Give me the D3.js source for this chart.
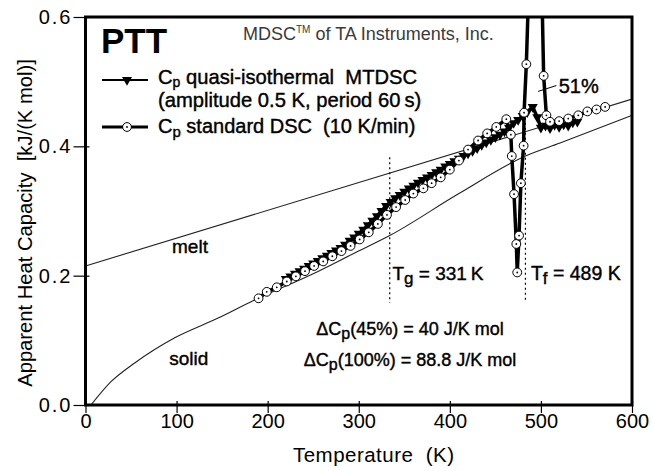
<!DOCTYPE html>
<html><head><meta charset="utf-8">
<script src="https://cdn.jsdelivr.net/npm/d3@7"></script>
<style>
body{margin:0;background:#fff}
svg{display:block}
text{font-family:"Liberation Sans",Arial,Helvetica,sans-serif;fill:#000}
.heavy{stroke:#000;stroke-width:0.4px}
</style>
</head><body>
<svg id="chart" width="653" height="471"></svg>
<script>
// ---------- data ----------
const xTicks = [0, 100, 200, 300, 400, 500, 600];
const yTicks = [0.0, 0.2, 0.4, 0.6];
const yTickLabels = ["0.0", "0.2", "0.4", "0.6"];

// quasi-isothermal MTDSC (triangles)
const mtdscT  = [220,225,230,235,240,245,250,255,260,265,270,275,280,285,290,295,300,305,310,315,320,325,330,335,340,345,350,355,360,365,370,375,380,385,390,395,400,405,410,415,420,425,430,435,440,445,450,455,460,465,470,475,480,485,491,496,500,505,510,515,520,525,530,535,540];
const mtdscCp = [.195,.199,.203,.207,.211,.215,.219,.223,.227,.231,.235,.239,.243,.248,.254,.259,.265,.271,.278,.285,.292,.300,.308,.314,.320,.325,.330,.335,.339,.344,.348,.352,.356,.360,.364,.369,.373,.377,.381,.385,.389,.393,.397,.402,.406,.410,.414,.418,.423,.429,.436,.441,.447,.453,.461,.445,.429,.432,.428,.433,.430,.434,.432,.437,.438];

// standard DSC 10 K/min (circles)
const dscT  = [190,199,210,221,231,241,251,261,271,281,291,301,311,321,331,341,351,360,371,380,390,400,410,420,431,441,451,462,467,468,470.5,473,474,476,478,481,481.5,484,490,497,503,506,510,520,530,541,551,561,570.5];
const dscCp = [.165,.175,.182,.191,.199,.207,.215,.222,.230,.238,.246,.256,.267,.280,.294,.306,.317,.327,.335,.343,.352,.364,.378,.395,.409,.420,.430,.442,.418,.385,.326,.249,.205,.262,.343,.401,.452,.527,.80,.92,.509,.448,.438,.439,.443,.448,.454,.457,.461];

// melt & solid reference heat capacities
const meltT  = [0, 600];
const meltCp = [0.215, 0.473];
const solidT  = [6, 28, 54, 98, 145, 185, 250, 294, 334, 410, 483, 521, 600];
const solidCp = [0, .036, .065, .104, .134, .162, .203, .234, .262, .327, .385, .405, .448];

const tgValue = 331, tfValue = 489;
const tgLine = {t: 334, top: 0.383, bottom: 0.158};
const tfLine = {t: 483, top: 0.452, bottom: 0.160};

// ---------- scales ----------
const svg = d3.select("#chart");
const x = d3.scaleLinear().domain([0, 600]).range([85.5, 632]);
const y = d3.scaleLinear().domain([0, 0.6]).range([405, 17]);

svg.append("defs").append("clipPath").attr("id","plot")
  .append("rect").attr("x",x(0)).attr("y",y(0.6)).attr("width",x(600)-x(0)).attr("height",y(0)-y(0.6));

const F = "20px";

// ---------- reference lines ----------
const line = (xs, ys, curve) => d3.line().x((d,i)=>x(xs[i])).y((d,i)=>y(ys[i])).curve(curve||d3.curveLinear)(xs);
const g = svg.append("g").attr("clip-path","url(#plot)");
g.append("path").attr("d", line(meltT, meltCp)).attr("fill","none").attr("stroke","#222").attr("stroke-width",1.1);
g.append("path").attr("d", line(solidT, solidCp, d3.curveMonotoneX)).attr("fill","none").attr("stroke","#222").attr("stroke-width",1.1);

// Tg / Tf dotted lines
[tgLine, tfLine].forEach(l => {
  g.append("line").attr("x1",x(l.t)).attr("x2",x(l.t)).attr("y1",y(l.top)).attr("y2",y(l.bottom))
   .attr("stroke","#000").attr("stroke-width",1.2).attr("stroke-dasharray","2,3");
});

// DSC line
g.append("path").attr("d", line(dscT, dscCp)).attr("fill","none").attr("stroke","#000").attr("stroke-width",3.5).attr("stroke-linejoin","round");
// MTDSC line + triangles
g.append("path").attr("d", line(mtdscT, mtdscCp)).attr("fill","none").attr("stroke","#000").attr("stroke-width",3.5).attr("stroke-linejoin","round");

const tri = d3.symbol().type(d3.symbolTriangle).size(44);
g.selectAll(".tri").data(mtdscT).join("path")
  .attr("transform",(d,i)=>`translate(${x(d)},${y(mtdscCp[i])}) rotate(180)`)
  .attr("d", tri()).attr("fill","#000");

// DSC circles
const circ = g.selectAll(".c").data(dscT).join("g")
  .attr("transform",(d,i)=>`translate(${x(d)},${y(dscCp[i])})`);
circ.append("circle").attr("r",4.4).attr("fill","#fff").attr("stroke","#000").attr("stroke-width",1);
circ.append("circle").attr("r",0.9).attr("fill","#000");

// ---------- axes ----------
const xAxis = svg.append("g").attr("transform",`translate(0,${y(0)})`)
  .call(d3.axisBottom(x).tickValues(xTicks).tickSize(8).tickFormat(d3.format("d")));
const yAxis = svg.append("g").attr("transform",`translate(${x(0)},0)`)
  .call(d3.axisLeft(y).tickValues(yTicks).tickSize(12).tickFormat((d,i)=>yTickLabels[i]));
[xAxis, yAxis].forEach(a => {
  a.select(".domain").remove();
  a.selectAll(".tick line").attr("stroke","#000").attr("stroke-width",1.2);
  a.selectAll(".tick text").style("font-size",F).attr("fill","#000");
});
xAxis.selectAll(".tick text").attr("dy","0.62em");
yAxis.selectAll(".tick text").attr("x",-13).style("letter-spacing","2px");
// inner ticks
xAxis.selectAll(".tick").append("line").attr("y2",-4).attr("stroke","#000").attr("stroke-width",1.2);
yAxis.selectAll(".tick").append("line").attr("x2",4).attr("stroke","#000").attr("stroke-width",1.2);

// frame
svg.append("rect").attr("x",x(0)).attr("y",y(0.6)).attr("width",x(600)-x(0)).attr("height",y(0)-y(0.6))
  .attr("fill","none").attr("stroke","#000").attr("stroke-width",3);

// axis titles
svg.append("text").attr("x",293).attr("y",462).style("font-size","20.5px")
  .attr("xml:space","preserve").attr("textLength",161).attr("lengthAdjust","spacing").text("Temperature  (K)");
svg.append("text").attr("transform",`translate(32,223) rotate(-90)`).attr("text-anchor","middle")
  .style("font-size","20.2px").attr("xml:space","preserve").text("Apparent Heat Capacity  [kJ/(K mol)]");

// ---------- annotations ----------
svg.append("text").attr("x",101).attr("y",53).style("font-size","35px").style("font-weight","bold").text("PTT");
const mdsc = svg.append("text").attr("x",243).attr("y",40).style("font-size","18px").style("fill","#3a3a3a");
mdsc.append("tspan").text("MDSC");
mdsc.append("tspan").attr("dy",-7).style("font-size","10px").text("TM");
mdsc.append("tspan").attr("dy",7).text(" of TA Instruments, Inc.");

// legend
const lg = svg.append("g");
lg.append("line").attr("x1",102).attr("x2",148).attr("y1",80).attr("y2",80).attr("stroke","#000").attr("stroke-width",2.2);
lg.append("path").attr("transform","translate(127,80) rotate(180)").attr("d",tri()).attr("fill","#000");
lg.append("line").attr("x1",102).attr("x2",148).attr("y1",127).attr("y2",127).attr("stroke","#000").attr("stroke-width",3);
lg.append("circle").attr("cx",127).attr("cy",127).attr("r",4.4).attr("fill","#fff").attr("stroke","#000");
lg.append("circle").attr("cx",127).attr("cy",127).attr("r",0.9).attr("fill","#000");

function sub(t, main, s, rest, size, dy){
  dy = dy || 4;
  t.append("tspan").text(main);
  t.append("tspan").attr("dy",dy).style("font-size",size||"15px").text(s);
  t.append("tspan").attr("dy",-dy).text(rest);
}
let t1 = lg.append("text").attr("class","heavy").attr("x",158).attr("y",84).style("font-size","20.2px").attr("xml:space","preserve");
sub(t1,"C","p"," quasi-isothermal  MTDSC","14px",3);
lg.append("text").attr("class","heavy").attr("x",158).attr("y",107).style("font-size","20.2px").attr("xml:space","preserve").text("(amplitude 0.5 K, period 60\u2009s)");
let t3 = lg.append("text").attr("class","heavy").attr("x",158).attr("y",133).style("font-size","20px").attr("xml:space","preserve");
sub(t3,"C","p"," standard DSC  (10 K/min)");

// melt / solid labels
svg.append("text").attr("class","heavy").attr("x",x(95)).attr("y",y(0.235)).style("font-size","19px").text("melt");
svg.append("text").attr("class","heavy").attr("x",x(92)).attr("y",y(0.062)).style("font-size","19px").text("solid");

// Tg, Tf labels
let tgT = svg.append("text").attr("class","heavy").attr("x",x(337)).attr("y",280).style("font-size","19px").attr("xml:space","preserve");
sub(tgT,"T","g"," = "+tgValue+"\u2009K","17px");
let tfT = svg.append("text").attr("class","heavy").attr("x",x(489)).attr("y",280).style("font-size","19.5px").attr("xml:space","preserve");
sub(tfT,"T","f"," = "+tfValue+" K","17px");

// 51%
svg.append("line").attr("x1",x(497)).attr("x2",x(517)).attr("y1",y(0.485)).attr("y2",y(0.494)).attr("stroke","#000").attr("stroke-width",1);
svg.append("text").attr("class","heavy").attr("x",x(519.5)).attr("y",93).style("font-size","20px").text("51%");

// delta Cp
let d1 = svg.append("text").attr("class","heavy").attr("x",410).attr("y",335).attr("text-anchor","middle").style("font-size","18px");
sub(d1,"\u0394C","p","(45%) = 40 J/K mol","16px");
let d2 = svg.append("text").attr("class","heavy").attr("x",410).attr("y",366).attr("text-anchor","middle").style("font-size","18px");
sub(d2,"\u0394C","p","(100%) = 88.8 J/K mol","16px");
</script>
</body></html>
